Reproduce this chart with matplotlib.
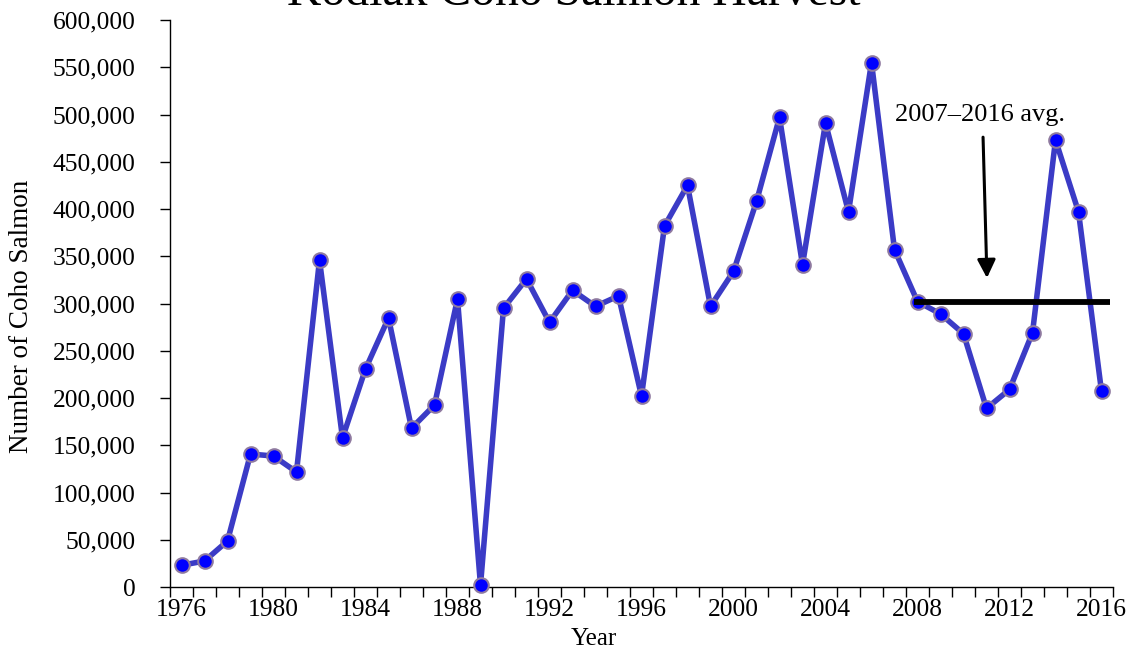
import matplotlib.pyplot as plt
import matplotlib.ticker as mticker

plt.rcParams['font.family'] = ['Liberation Serif', 'DejaVu Serif']
plt.rcParams['xtick.labelsize'] = 18.4
plt.rcParams['ytick.labelsize'] = 18.4

years = list(range(1976, 2017))
harvest = [23000, 27500, 48700, 140700, 138600, 121700, 346000, 157700, 230700, 284700,
           168000, 192600, 304800, 2000, 295000, 326000, 280000, 314000, 297000, 308000,
           202000, 382000, 425000, 297000, 334000, 408000, 497000, 341000, 491000, 397000,
           555000, 357000, 302000, 289000, 268000, 189000, 209000, 269000, 473000, 397000,
           207000]
avg_value = 302000
avg_span = (2007.85, 2016.35)
year_labels = list(range(1976, 2017, 4))

W, H = 1132, 649
fig = plt.figure(figsize=(W / 100, H / 100), dpi=100)
ax = fig.add_axes([170 / W, 62 / H, 943 / W, 567 / H])

ax.plot(years, harvest, color='#3b3bc6', lw=4, zorder=3,
        marker='o', markersize=10.5, markerfacecolor='#0000ff',
        markeredgecolor='#8f7aa0', markeredgewidth=1.5, clip_on=False)

ax.plot(avg_span, [avg_value, avg_value], color='black', lw=4.2, zorder=4,
        solid_capstyle='butt')

ax.annotate('', xy=(2011.02, 327000), xytext=(2010.85, 476000),
            arrowprops=dict(arrowstyle='-|>,head_width=0.55,head_length=1.1',
                            color='black', lw=2.2, shrinkA=0, shrinkB=0))
ax.text(2010.72, 500000, '2007\u20132016 avg.', fontsize=19,
        ha='center', va='center')

ax.set_xlim(1975.5, 2016.5)
ax.set_ylim(0, 600000)

# labels on major ticks (no tick mark), year-boundary marks on minor ticks
ax.set_xticks(year_labels)
ax.set_xticklabels([str(y) for y in year_labels])
ax.set_xticks([y - 0.5 for y in years] + [2016.5], minor=True)
ax.tick_params(axis='x', which='major', length=0, pad=9)
ax.tick_params(axis='x', which='minor', direction='out', length=7, width=1)

ax.set_yticks(range(0, 600001, 50000))
ax.yaxis.set_major_formatter(mticker.FuncFormatter(lambda v, p: f'{v:,.0f}'))
ax.tick_params(axis='y', direction='out', length=7, width=1, pad=18)

for s in ['top', 'right']:
    ax.spines[s].set_visible(False)
for s in ['left', 'bottom']:
    ax.spines[s].set_linewidth(1)

fig.text(574 / W, 1 - 5 / H, 'Kodiak Coho Salmon Harvest', fontsize=34.3,
         ha='center', va='baseline')
fig.text(22 / W, 1 - 316 / H, 'Number of Coho Salmon', fontsize=19.5,
         rotation=90, ha='center', va='center')
fig.text(594 / W, 1 - 645 / H, 'Year', fontsize=18, ha='center', va='baseline')

fig.savefig('out.png', dpi=100)
